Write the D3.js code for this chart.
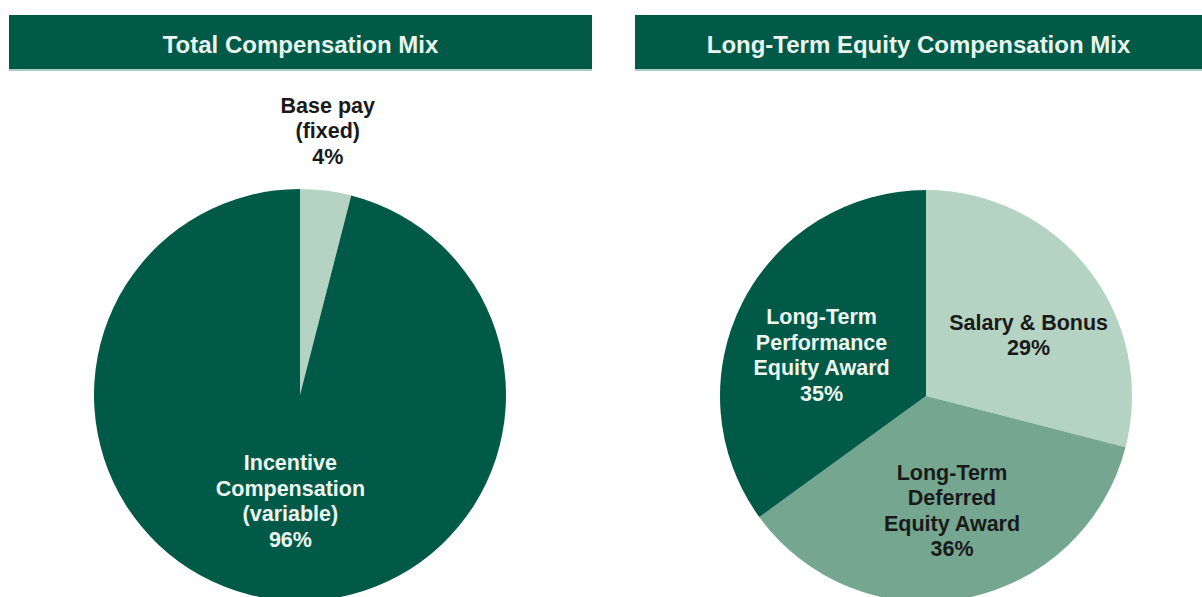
<!DOCTYPE html>
<html lang="en">
<head>
    <meta charset="UTF-8">
    <title>Compensation Mix</title>
    <script src="https://d3js.org/d3.v7.min.js"></script>
    <style>
        body {
            margin: 0;
            background: #fff;
        }
        svg {
            display: block;
            font-family: Arial, "Liberation Sans", Helvetica, sans-serif;
            font-weight: bold;
        }
    </style>
</head>
<body>
<svg id="chart" width="1202" height="597"></svg>

<script>
    // left pie
    const totalTitle = "Total Compensation Mix";
    const totalCats = [["Base pay", "(fixed)"], ["Incentive", "Compensation", "(variable)"]];
    const totalVals = [4, 96];
    const totalColors = ["#b5d3c2", "#005a47"];
    const totalText = ["#1a1a1a", "#eef6f1"];

    // right pie
    const equityTitle = "Long-Term Equity Compensation Mix";
    const equityCats = [["Salary & Bonus"], ["Long-Term", "Deferred", "Equity Award"], ["Long-Term", "Performance", "Equity Award"]];
    const equityVals = [29, 36, 35];
    const equityColors = ["#b5d3c2", "#74a690", "#005a47"];
    const equityText = ["#1a1a1a", "#1a1a1a", "#eef6f1"];

    const svg = d3.select("#chart");
    const headerColor = "#005a47";

    function header(x0, x1, title) {
        svg.append("rect")
            .attr("x", x0).attr("y", 15)
            .attr("width", x1 - x0).attr("height", 54)
            .attr("fill", headerColor);
        svg.append("rect")
            .attr("x", x0).attr("y", 69)
            .attr("width", x1 - x0).attr("height", 2)
            .attr("fill", "#a9cfc0");
        svg.append("text")
            .attr("x", (x0 + x1) / 2).attr("y", 53)
            .attr("text-anchor", "middle")
            .attr("font-size", 24)
            .attr("fill", "#e9f4ee")
            .text(title);
    }

    // labelR: radius fraction, labelRot: angle nudge in degrees
    function pie(cx, cy, r, cats, vals, colors, textColors, labelR, labelRot) {
        const g = svg.append("g").attr("transform", `translate(${cx},${cy})`);
        const arcs = d3.pie().sort(null)(vals);
        const arc = d3.arc().innerRadius(0).outerRadius(r);

        g.selectAll("path")
            .data(arcs)
            .enter()
            .append("path")
            .attr("d", arc)
            .attr("fill", (d, i) => colors[i]);

        const lh = 25.5;
        arcs.forEach(function(d, i) {
            const lr = r * labelR[i];
            const rot = labelRot[i] * Math.PI / 180;
            const c = d3.arc().innerRadius(lr).outerRadius(lr)
                .centroid({startAngle: d.startAngle + rot, endAngle: d.endAngle + rot});
            const lines = cats[i].concat([vals[i] + "%"]);
            const t = g.append("text")
                .attr("text-anchor", "middle")
                .attr("font-size", 21.5)
                .attr("fill", textColors[i]);
            lines.forEach(function(s, j) {
                t.append("tspan")
                    .attr("x", c[0])
                    .attr("y", c[1] + (j - (lines.length - 1) / 2) * lh)
                    .attr("dy", "0.36em")
                    .text(s);
            });
        });
    }

    header(9, 592, totalTitle);
    header(635, 1202, equityTitle);

    pie(300, 395, 206, totalCats, totalVals, totalColors, totalText, [1.29, 0.515], [-1.2, -2]);
    pie(926, 396, 206, equityCats, equityVals, equityColors, equityText, [0.58, 0.57, 0.545], [7, -2, -5.5]);
</script>
</body>
</html>
